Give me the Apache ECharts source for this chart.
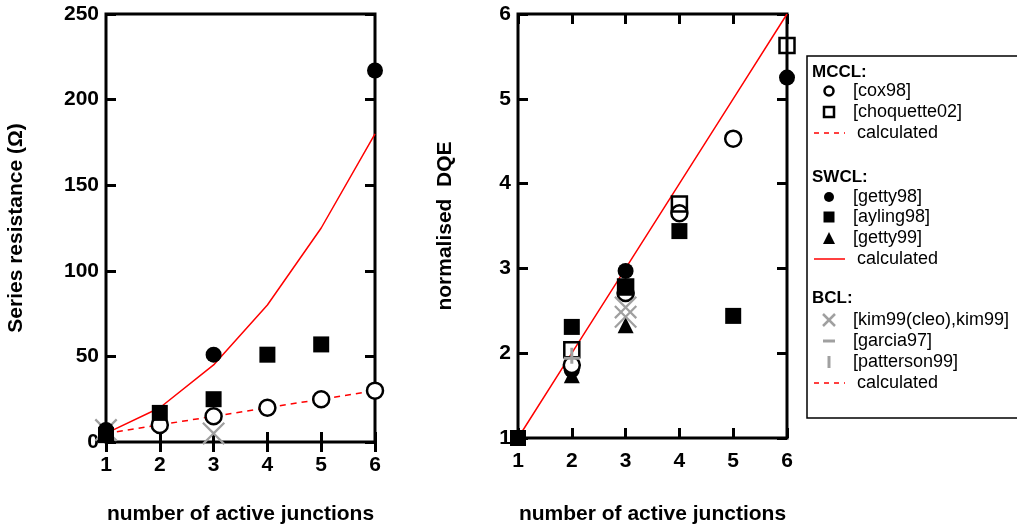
<!DOCTYPE html>
<html><head><meta charset="utf-8">
<script src="https://cdn.jsdelivr.net/npm/echarts@6/dist/echarts.min.js"></script>
<style>html,body{margin:0;padding:0;background:#fff}#c{width:1017px;height:526px}</style>
</head><body><div id="c"></div>
<script>
// ---------- data ----------
const junctions = [1, 2, 3, 4, 5, 6];
// Left panel: series resistance (Ω)
const resCalcMCCL = [5, 10, 15, 20, 25, 30];
const resCalcSWCL = [5, 20, 45, 80, 125, 180];
const resCox98 = [[2, 10], [3, 15], [4, 20], [5, 25], [6, 30]];
const resGetty98 = [[1, 7], [3, 51], [6, 217]];
const resAyling98 = [[1, 4], [2, 17], [3, 25], [4, 51], [5, 57]];
const resKim99 = [[1, 7], [3, 5]];
// Right panel: normalised DQE
const dqeCalc = [1, 2, 3, 4, 5, 6];
const dqeCox98 = [[2, 1.86], [3, 2.71], [4, 3.65], [5, 4.53]];
const dqeChoquette02 = [[2, 2.04], [3, 2.78], [4, 3.76], [6, 5.63]];
const dqeGetty98 = [[2, 1.8], [3, 2.97], [6, 5.25]];
const dqeAyling98 = [[1, 1], [2, 2.31], [3, 2.78], [4, 3.44], [5, 2.44]];
const dqeGetty99 = [[2, 1.74], [3, 2.33]];
const dqeKim99 = [[3, 2.54], [3, 2.43]];
const dqeGarcia97 = [[2, 1.94]];
const dqePatterson99 = [[2, 1.97]];
// text
const xTitle = 'number of active junctions';
const yTitleLeft = 'Series resistance (Ω)';
const yTitleRight = 'normalised  DQE';
const legendGroups = [
  { head: 'MCCL:', items: [['ocircle', '[cox98]'], ['osquare', '[choquette02]'], ['dash', 'calculated']] },
  { head: 'SWCL:', items: [['circle', '[getty98]'], ['square', '[ayling98]'], ['triangle', '[getty99]'], ['solid', 'calculated']] },
  { head: 'BCL:', items: [['cross', '[kim99(cleo),kim99]'], ['hbar', '[garcia97]'], ['vbar', '[patterson99]'], ['dash', 'calculated']] }
];

// ---------- styling ----------
const FONT = "'Liberation Sans', Arial, sans-serif";
const RED = '#ff0000', GRAY = '#a0a0a0';
const zip = (xs, ys) => xs.map((x, i) => [x, ys[i]]);
const CROSS = 'path://M0,7L7,0L50,43L93,0L100,7L57,50L100,93L93,100L50,57L7,100L0,93L43,50Z';

function axisPair(gridIndex, isX, min, max, interval, showLabels, pos, extra) {
  return Object.assign({
    type: 'value', gridIndex, min, max, interval, position: pos,
    axisLine: { show: false },
    axisTick: { show: true, inside: true, length: 10, lineStyle: { color: '#000', width: 3 } },
    axisLabel: { show: showLabels, color: '#000', fontFamily: FONT, fontWeight: 'bold', fontSize: 21, margin: isX ? 13 : 7 },
    splitLine: { show: false }
  }, extra || {});
}
const nameStyle = { color: '#000', fontFamily: FONT, fontWeight: 'bold', fontSize: 21 };

const xAxes = [
  axisPair(0, true, 1, 6, 1, true, 'bottom', { name: xTitle, nameLocation: 'middle', nameGap: 62, nameTextStyle: nameStyle }),
  axisPair(0, true, 1, 6, 1, false, 'top'),
  axisPair(1, true, 1, 6, 1, true, 'bottom', { name: xTitle, nameLocation: 'middle', nameGap: 66, nameTextStyle: nameStyle }),
  axisPair(1, true, 1, 6, 1, false, 'top')
];
const yAxes = [
  axisPair(0, false, 0, 250, 50, true, 'left', { name: yTitleLeft, nameLocation: 'middle', nameGap: 79, nameTextStyle: nameStyle }),
  axisPair(0, false, 0, 250, 50, false, 'right'),
  axisPair(1, false, 1, 6, 1, true, 'left', { name: yTitleRight, nameLocation: 'middle', nameGap: 62, nameTextStyle: nameStyle }),
  axisPair(1, false, 1, 6, 1, false, 'right')
];

function line(g, data, dashed) {
  return { type: 'line', xAxisIndex: g * 2, yAxisIndex: g * 2, data, symbol: 'none', z: 2, silent: true,
    lineStyle: { color: RED, width: 1.5, type: dashed ? [6, 5] : 'solid' } };
}
function pts(g, data, symbol, size, fill, border, bw, z) {
  return { type: 'scatter', xAxisIndex: g * 2, yAxisIndex: g * 2, data, symbol, symbolSize: size, z: z || 3,
    itemStyle: { color: fill, borderColor: border || fill, borderWidth: bw || 0, opacity: 1 } };
}

const series = [
  // left
  line(0, zip(junctions, resCalcMCCL), true),
  line(0, zip(junctions, resCalcSWCL), false),
  pts(0, resKim99, CROSS, 23, GRAY),
  pts(0, resCox98, 'circle', 16, '#fff', '#000', 2.5, 4),
  pts(0, resAyling98, 'rect', 16, '#000', null, 0, 5),
  pts(0, resGetty98, 'circle', 16, '#000', null, 0, 6),
  // right
  line(1, zip(junctions, dqeCalc), false),
  pts(1, dqeGetty99, 'triangle', 16, '#000'),
  pts(1, dqeGetty98, 'circle', 16, '#000', null, 0, 3),
  pts(1, dqeCox98, 'circle', 16, '#fff', '#000', 2.5, 4),
  pts(1, dqeChoquette02, 'rect', 15, 'rgba(255,255,255,0)', '#000', 2.5, 4),
  pts(1, dqeAyling98, 'rect', 16, '#000', null, 0, 5),
  pts(1, dqeKim99, CROSS, 23, GRAY, null, 0, 6),
  pts(1, dqeGarcia97, 'rect', [16, 3], GRAY, null, 0, 6),
  pts(1, dqePatterson99, 'rect', [3, 16], GRAY, null, 0, 6)
];

// ---------- legend (graphic) ----------
const rowY = [[72, 91, 112, 133], [177, 197, 217, 238, 259], [298, 320, 341, 362, 383]];
const g = [];
g.push({ type: 'rect', shape: { x: 807, y: 56, width: 240, height: 362 }, style: { fill: '#fff', stroke: '#000', lineWidth: 1.5 }, z: 100 });
const SX = 829, TX = 853;
legendGroups.forEach((grp, gi) => {
  const ys = rowY[gi];
  g.push({ type: 'text', x: 812, y: ys[0], z: 101, style: { text: grp.head, font: 'bold 17px ' + FONT, fill: '#000', verticalAlign: 'middle' } });
  grp.items.forEach((it, ii) => {
    const y = ys[ii + 1];
    const k = it[0];
    let tx = TX;
    if (k === 'ocircle') g.push({ type: 'circle', z: 101, shape: { cx: SX, cy: y, r: 4.5 }, style: { fill: '#fff', stroke: '#000', lineWidth: 2.5 } });
    if (k === 'osquare') g.push({ type: 'rect', z: 101, shape: { x: SX - 5, y: y - 5, width: 10, height: 10 }, style: { fill: '#fff', stroke: '#000', lineWidth: 2.5 } });
    if (k === 'circle') g.push({ type: 'circle', z: 101, shape: { cx: SX, cy: y, r: 5 }, style: { fill: '#000' } });
    if (k === 'square') g.push({ type: 'rect', z: 101, shape: { x: SX - 5.5, y: y - 5.5, width: 11, height: 11 }, style: { fill: '#000' } });
    if (k === 'triangle') g.push({ type: 'polygon', z: 101, shape: { points: [[SX, y - 6], [SX + 6, y + 6], [SX - 6, y + 6]] }, style: { fill: '#000' } });
    if (k === 'dash' || k === 'solid') {
      g.push({ type: 'line', z: 101, shape: { x1: 814, y1: y, x2: 845, y2: y }, style: { stroke: RED, lineWidth: 1.5, lineDash: k === 'dash' ? [5, 5] : null } });
      tx = 857;
    }
    if (k === 'cross') {
      g.push({ type: 'line', z: 101, shape: { x1: SX - 6, y1: y - 6, x2: SX + 6, y2: y + 6 }, style: { stroke: GRAY, lineWidth: 2.5 } });
      g.push({ type: 'line', z: 101, shape: { x1: SX - 6, y1: y + 6, x2: SX + 6, y2: y - 6 }, style: { stroke: GRAY, lineWidth: 2.5 } });
    }
    if (k === 'hbar') g.push({ type: 'line', z: 101, shape: { x1: SX - 6, y1: y, x2: SX + 6, y2: y }, style: { stroke: GRAY, lineWidth: 3 } });
    if (k === 'vbar') g.push({ type: 'line', z: 101, shape: { x1: SX, y1: y - 6, x2: SX, y2: y + 6 }, style: { stroke: GRAY, lineWidth: 3 } });
    g.push({ type: 'text', x: tx, y: y, z: 101, style: { text: it[1], font: '18px ' + FONT, fill: '#000', verticalAlign: 'middle' } });
  });
});

const chart = echarts.init(document.getElementById('c'), null, { renderer: 'canvas' });
chart.setOption({
  backgroundColor: '#fff',
  animation: false,
  grid: [
    { left: 106, top: 14, width: 269, height: 428, show: true, borderColor: '#000', borderWidth: 3, backgroundColor: 'transparent', containLabel: false, outerBoundsMode: 'none' },
    { left: 518, top: 14, width: 269, height: 424, show: true, borderColor: '#000', borderWidth: 3, backgroundColor: 'transparent', containLabel: false, outerBoundsMode: 'none' }
  ],
  xAxis: xAxes,
  yAxis: yAxes,
  series,
  graphic: g
});
</script>
</body></html>
